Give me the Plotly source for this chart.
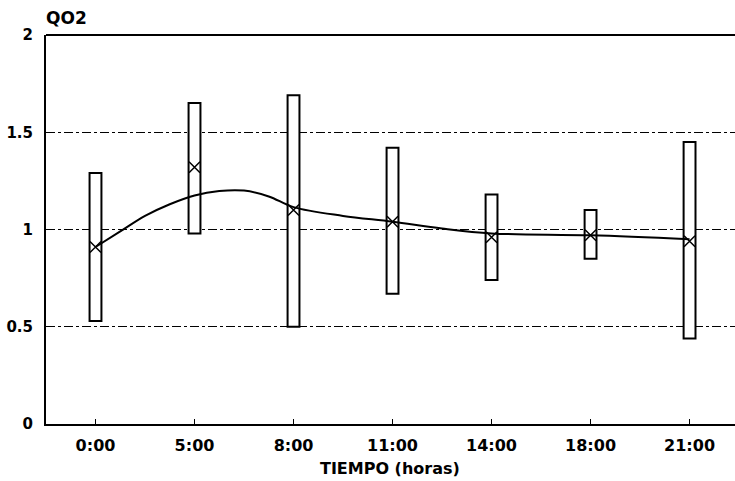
import plotly.graph_objects as go

categories = ["0:00", "5:00", "8:00", "11:00", "14:00", "18:00", "21:00"]
box_low = [0.53, 0.98, 0.50, 0.67, 0.74, 0.85, 0.44]
box_high = [1.29, 1.65, 1.69, 1.42, 1.18, 1.10, 1.45]
means = [0.91, 1.32, 1.10, 1.04, 0.96, 0.97, 0.94]

# fitted curve (position along the category axis, value)
curve_pos = [0, 0.25, 0.5, 0.75, 1.0, 1.25, 1.5, 1.75, 2.0, 2.5, 3.0, 3.5, 4.0, 5.0, 6.0]
curve_val = [0.91, 0.99, 1.07, 1.13, 1.175, 1.198, 1.20, 1.17, 1.115, 1.07, 1.04, 1.005, 0.98, 0.97, 0.95]

pos = list(range(len(categories)))
font = "DejaVu Sans, Liberation Sans, sans-serif"

fig = go.Figure()
fig.add_trace(go.Bar(
    x=pos, base=box_low, y=[h - l for h, l in zip(box_high, box_low)],
    width=0.12, marker=dict(color="white", line=dict(color="black", width=2)),
    hoverinfo="skip"))
fig.add_trace(go.Scatter(
    x=curve_pos, y=curve_val, mode="lines", line=dict(color="black", width=2, shape="spline"),
    hoverinfo="skip"))
fig.add_trace(go.Scatter(
    x=pos, y=means, mode="markers",
    marker=dict(symbol="x-thin-open", size=11, line=dict(color="black", width=1.5), color="black")))

# plot area extends past the right edge of the window (as in the scanned original)
fig.update_layout(
    width=745, height=481, showlegend=False,
    margin=dict(l=46, r=0, t=35, b=57),
    plot_bgcolor="white", paper_bgcolor="white",
    font=dict(family=font, color="black", size=16),
    xaxis=dict(range=[-0.5, 6.56], tickvals=pos, ticktext=categories,
               ticks="inside", ticklen=5, tickcolor="black", showgrid=False,
               showline=True, linecolor="black", linewidth=2, mirror=False,
               automargin=False,
               tickfont=dict(family=font, size=16, weight="bold"),
               ticklabelstandoff=6, zeroline=False),
    yaxis=dict(range=[0, 2], tickvals=[0, 0.5, 1, 1.5, 2], ticktext=["0", "0.5", "1", "1.5", "2"],
               showgrid=True, gridcolor="black", gridwidth=1, griddash="dashdot",
               showline=True, linecolor="black", linewidth=2, zeroline=False,
               automargin=False,
               ticks="", tickfont=dict(family=font, size=15, weight="bold"),
               ticklabelstandoff=8),
    shapes=[dict(type="line", xref="paper", yref="paper", x0=0, x1=1, y0=1, y1=1,
                 line=dict(color="black", width=2))],
    annotations=[
        dict(text="QO2", x=0, y=1, xref="paper", yref="paper",
             xanchor="left", yanchor="bottom", yshift=5, xshift=-2, showarrow=False,
             font=dict(family=font, size=17, weight="bold")),
        dict(text="TIEMPO (horas)", x=390, y=468, xref="x domain", yref="paper",
             showarrow=False, font=dict(family=font, size=16, weight="bold")),
    ],
)
# place x title by pixel: convert to paper coordinates
plot_w = 745 - 46
plot_h = 481 - 35 - 57
fig.layout.annotations[1].update(xref="paper", x=(390 - 46) / plot_w,
                                 y=(481 - 57 - 468) / plot_h, yanchor="middle")

fig.write_html("out.html", config={"displayModeBar": False},
               post_script="document.body.style.margin='0px';document.body.style.overflow='hidden';")
